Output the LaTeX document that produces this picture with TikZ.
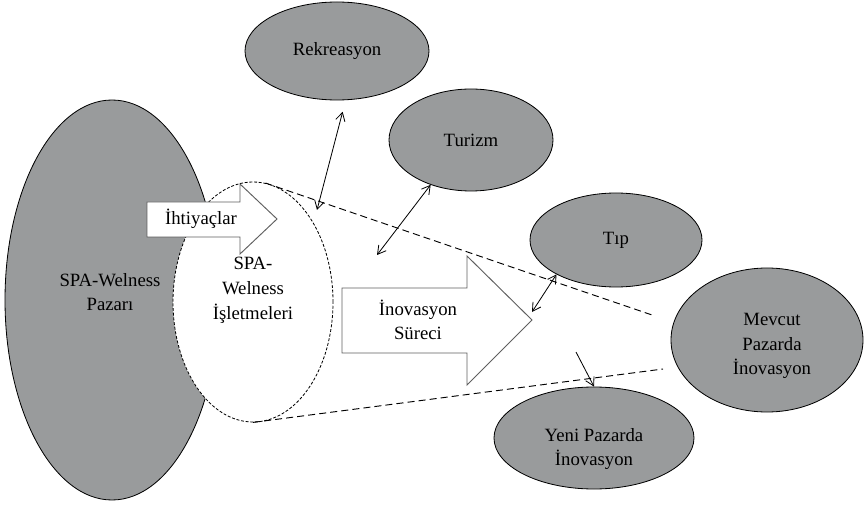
\documentclass[tikz,border=0pt]{standalone}
\usepackage{fontspec}
\setmainfont{Liberation Serif}
\usetikzlibrary{positioning, arrows.meta, shapes.geometric}
\definecolor{oval-grey}{RGB}{153,155,156}
\definecolor{arrow-edge}{RGB}{95,95,95}

\begin{document}
\begin{tikzpicture}[x=0.03cm, y=-0.03cm,
	every node/.style={font=\fontsize{16}{20}\selectfont, align=center},
	field/.style={ellipse, draw, line width=0.7pt, fill=oval-grey, inner sep=0pt},
	bigarrow/.style={draw=arrow-edge, line width=0.8pt, fill=white},
	border/.style={dashed, line width=0.8pt, dash pattern=on 6pt off 3.5pt},
	twoway/.style={<->, line width=0.7pt, >={Straight Barb[length=7pt,width=8pt]}},
	oneway/.style={->, line width=0.7pt, >={Straight Barb[length=7pt,width=8pt]}}]
	\useasboundingbox (0,0) rectangle (865,511);
	% market and businesses
	\node[field, minimum width=214*0.03cm, minimum height=400*0.03cm,
		label={[shift={(-2,-8)}]center:SPA-Welness\\Pazarı}] (pazar) at (112,300) {};
	\node[ellipse, draw, fill=white, inner sep=0pt, line width=0.7pt,
		dash pattern=on 2.5pt off 1.5pt,
		minimum width=160*0.03cm, minimum height=240*0.03cm,
		label={[shift={(0,-12)}, font=\fontsize{16}{21.5}\selectfont]center:SPA-\\Welness\\İşletmeleri}] (isletme) at (253,302) {};
	% the funnel
	\coordinate (funneltop) at (655,316);
	\coordinate (funnelbot) at (663,369);
	\draw[border] (isletme.84) -- (funneltop);
	\draw[border] (isletme.south) -- (funnelbot);
	% big arrows
	\draw[bigarrow] (147,202) -- (240,202) -- (240,184) -- (277,219) -- (240,254)
		-- (240,237) -- (147,237) -- cycle;
	\node (ihtiyac) at (201,219) {İhtiyaçlar};
	\draw[bigarrow] (342,288) -- (467,288) -- (467,256) -- (532,320) -- (467,385)
		-- (467,353) -- (342,353) -- cycle;
	\node (surec) at (418,320) {İnovasyon\\Süreci};
	% fields around
	\node[field, minimum width=184*0.03cm, minimum height=98*0.03cm] (rek) at (337,51) {Rekreasyon};
	\node[field, minimum width=164*0.03cm, minimum height=102*0.03cm] (tur) at (471,140) {Turizm};
	\node[field, minimum width=172*0.03cm, minimum height=94*0.03cm] (tip) at (616,240) {Tıp};
	\node[field, minimum width=192*0.03cm, minimum height=144*0.03cm,
		label={[shift={(5,6)}, font=\fontsize{16}{21}\selectfont]center:Mevcut\\Pazarda\\İnovasyon}] (mevcut) at (767,340) {};
	\node[field, minimum width=200*0.03cm, minimum height=102*0.03cm,
		label={[shift={(0,11)}]center:Yeni Pazarda\\İnovasyon}] (yeni) at (594,438) {};
	% links
	\coordinate (rekfoot) at (317,210);
	\coordinate (turfoot) at (377,255);
	\coordinate (tipfoot) at (532,312);
	\coordinate (yenitail) at (576,352);
	\draw[twoway, shorten <=0.36cm] (rek.-80) -- (rekfoot);
	\draw[twoway] (tur.-132) -- (turfoot);
	\draw[twoway] (tip.-150) -- (tipfoot);
	\draw[oneway] (yenitail) -- (yeni.north);
\end{tikzpicture}
\end{document}
